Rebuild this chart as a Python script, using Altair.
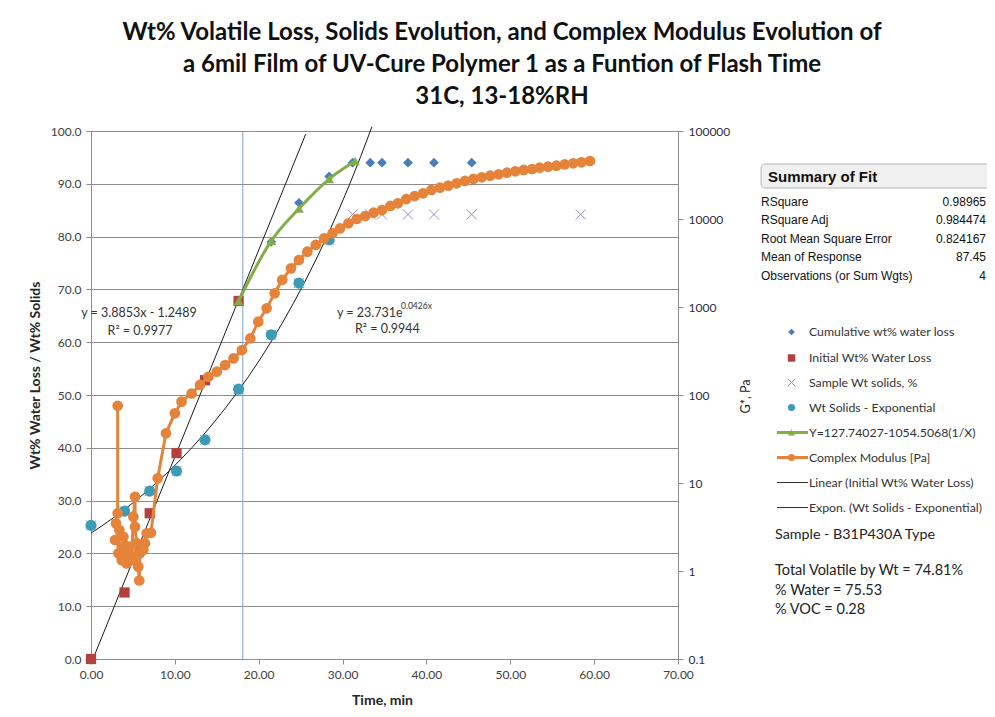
import altair as alt
import pandas as pd

# ---------------- data ----------------
cum_x = [17.6, 21.5, 24.8, 28.4, 31.2, 33.3, 34.7, 37.8, 40.9, 45.4, 58.4]
cum_y = [67.8, 79.0, 86.4, 91.4, 94.0, 94.0, 94.0, 94.0, 94.0, 94.0, 94.0]

init_x = [0.0, 4.0, 7.0, 10.2, 13.6, 17.6]
init_y = [0.0, 12.6, 27.6, 39.0, 52.8, 67.8]

samp_x = [0.0, 4.0, 7.0, 10.2, 13.6, 17.6, 21.5, 24.8, 28.4, 31.2, 33.3, 34.7, 37.8, 40.9, 45.4, 58.4]
samp_y = [25.3, 28.0, 31.8, 35.6, 41.5, 51.1, 61.4, 71.2, 79.4, 84.2, 84.2, 84.2, 84.2, 84.2, 84.2, 84.2]

sol_x = [0.0, 4.0, 7.0, 10.2, 13.6, 17.6, 21.5, 24.8, 28.4]
sol_y = [25.3, 28.0, 31.8, 35.6, 41.5, 51.1, 61.4, 71.2, 79.4]

fit_x = [17.6, 21.5, 24.8, 28.4, 31.5]
fit_y = [67.8, 79.2, 85.3, 90.9, 94.3]

gm_x = [3.18, 3.18, 2.98, 3.38, 2.86, 3.66, 3.26, 3.66, 4.25, 3.86, 4.57, 4.25, 4.85,
        5.05, 5.25, 5.25, 5.45, 5.05, 5.64, 5.76, 5.84, 6.24, 6.44, 6.64, 7.15, 7.95,
        8.94, 10.0, 10.8, 12.0, 13.0, 14.0, 15.0, 16.0, 17.0, 18.0, 19.0, 19.95, 20.95,
        21.9, 22.8, 23.85, 24.8, 25.8, 26.8, 27.8, 28.8, 29.7, 30.7, 31.7, 32.7, 33.7,
        34.7, 35.7, 36.6, 37.6, 38.6, 39.6, 40.6, 41.6, 42.6, 43.6, 44.6, 45.6, 46.6,
        47.6, 48.6, 49.6, 50.6, 51.6, 52.6, 53.5, 54.5, 55.5, 56.5, 57.5, 58.5, 59.5]
gm_g = [75.5, 4.53, 3.48, 2.92, 2.25, 1.89, 1.59, 1.33, 1.52, 2.45, 1.89, 1.22, 1.46,
        4.14, 6.98, 3.18, 2.07, 1.33, 1.12, 0.78, 1.59, 1.73, 2.07, 2.68, 2.72, 11.3,
        36.7, 62, 84, 104, 130, 161, 184, 219, 261, 324, 441, 681, 966,
        1430, 2030, 2750, 3420, 4250, 5070, 6040, 6890, 7830, 8930, 10000, 10800, 11800,
        12650, 14060, 15070, 16870, 18240, 19590, 21380, 22700, 23880, 25470, 27040, 28510, 29790,
        31050, 32210, 33570, 34830, 36060, 36980, 38280, 39260, 40360, 41780, 42950, 44060, 45600]

ref_x = [18.1]
lin_extent = [0.32, 25.6]
exp_extent = [0.0, 33.5]

x_ticks = [0, 10, 20, 30, 40, 50, 60, 70]
yl_ticks = [0, 10, 20, 30, 40, 50, 60, 70, 80, 90, 100]
yr_ticks = [0.1, 1, 10, 100, 1000, 10000, 100000]

title_lines = ["Wt% Volatile Loss, Solids Evolution, and Complex Modulus Evolution of",
               "a 6mil Film of UV-Cure Polymer 1 as a Funtion of Flash Time",
               "31C, 13-18%RH"]
legend_labels = ["Cumulative wt% water loss", "Initial Wt% Water Loss", "Sample Wt solids, %",
                 "Wt Solids - Exponential", "Y=127.74027-1054.5068(1/X)", "Complex Modulus [Pa]",
                 "Linear (Initial Wt% Water Loss)", "Expon. (Wt Solids - Exponential)"]
fit_names = ["RSquare", "RSquare Adj", "Root Mean Square Error", "Mean of Response",
             "Observations (or Sum Wgts)"]
fit_vals = ["0.98965", "0.984474", "0.824167", "87.45", "4"]
notes = ["Total Volatile by Wt = 74.81%", "% Water = 75.53", "% VOC = 0.28"]

# ---------------- styling ----------------
F = "Lato"
FA = "Liberation Sans"
TXT = "#262626"
GRID = "#8c8c8c"
C_BLUE = "#4a7ebb"
C_RED = "#b5413f"
C_PURP = "#9a8cc4"
C_TEAL = "#3c9cb8"
C_GREEN = "#82ad47"
C_ORANGE = "#e5833a"
X_SHAPE = "M-1,-1L1,1M-1,1L1,-1"

x_scale = alt.Scale(domain=[0, 70], nice=False, zero=False)
yl_scale = alt.Scale(domain=[0, 100], nice=False)
yr_scale = alt.Scale(type="log", domain=[0.1, 100000], nice=False)

x_axis = alt.Axis(values=x_ticks, format=".2f", title="Time, min", grid=False,
                  labelFont=F, labelFontSize=12, labelColor="#404040", labelPadding=5,
                  labelFlush=False, labelOverlap=False,
                  tickSize=5, tickColor=GRID, domainColor=GRID,
                  titleFont=F, titleFontSize=14, titleFontWeight="bold", titleColor=TXT,
                  titleX=291, titleY=41, titleAlign="center", titleBaseline="middle")
yl_axis = alt.Axis(values=yl_ticks, format=".1f", title="Wt% Water Loss / Wt% Solids",
                   orient="left", grid=True, gridColor=GRID, gridWidth=1,
                   labelFont=F, labelFontSize=12, labelColor="#404040", labelPadding=5,
                   labelFlush=False, labelOverlap=False,
                   tickSize=5, tickColor=GRID, domainColor=GRID,
                   titleFont=F, titleFontSize=14, titleFontWeight="bold", titleColor=TXT,
                   titleX=-56, titleY=244, titleAngle=270, titleAlign="center",
                   titleBaseline="middle")
yr_axis = alt.Axis(values=yr_ticks, format="~g", title="G*, Pa", orient="right", grid=False,
                   labelFont=F, labelFontSize=12, labelColor="#2c2c44", labelPadding=5,
                   labelFlush=False, labelOverlap=False,
                   tickSize=5, tickColor=GRID, domainColor=GRID,
                   titleFont=F, titleFontSize=12.5, titleFontWeight="normal", titleColor=TXT,
                   titleX=67, titleY=265, titleAngle=270, titleAlign="center",
                   titleBaseline="middle")

X = alt.X("t:Q", scale=x_scale, axis=x_axis)
YL = alt.Y("v:Q", scale=yl_scale, axis=yl_axis)
YR = alt.Y("g:Q", scale=yr_scale, axis=yr_axis)

ONE = pd.DataFrame({"k": [0]})


def df(xs, ys):
    return pd.DataFrame({"t": xs, "v": ys})


def txt(s, x, y, size=11, weight="normal", align="left", font=F, color=TXT, baseline="middle"):
    return alt.Chart(ONE).mark_text(text=s, align=align, baseline=baseline, font=font,
                                    fontSize=size, fontWeight=weight, color=color).encode(
        x=alt.value(x), y=alt.value(y))


def sym(x, y, shape, color, size, filled=True, sw=1.0):
    m = alt.Chart(ONE).mark_point(shape=shape, size=size, filled=filled, opacity=1,
                                  color=color, strokeWidth=sw)
    return m.encode(x=alt.value(x), y=alt.value(y))


def seg(x1, x2, y, color, sw):
    return alt.Chart(ONE).mark_rule(color=color, strokeWidth=sw).encode(
        x=alt.value(x1), x2=alt.value(x2), y=alt.value(y))


# ---------------- data layers ----------------
vline = alt.Chart(pd.DataFrame({"t": ref_x})).mark_rule(color="#7ea3cf", strokeWidth=1).encode(x=X)

lin = alt.Chart(df(init_x, init_y)).transform_regression(
    "t", "v", method="linear", extent=lin_extent).mark_line(color="#1a1a1a", strokeWidth=1).encode(x=X, y=YL)
expo = alt.Chart(df(sol_x, sol_y)).transform_regression(
    "t", "v", method="exp", extent=exp_extent).mark_line(color="#1a1a1a", strokeWidth=1).encode(x=X, y=YL)

cum = alt.Chart(df(cum_x, cum_y)).mark_point(shape="diamond", filled=True, size=95, color=C_BLUE,
                                              opacity=1).encode(x=X, y=YL)
init = alt.Chart(df(init_x, init_y)).mark_point(shape="square", filled=True, size=105, color=C_RED,
                                                 opacity=1).encode(x=X, y=YL)
samp = alt.Chart(df(samp_x, samp_y)).mark_point(shape=X_SHAPE, filled=False, size=100, color=C_PURP,
                                                 strokeWidth=1, opacity=1).encode(x=X, y=YL)
sol = alt.Chart(df(sol_x, sol_y)).mark_point(shape="circle", filled=True, size=125, color=C_TEAL,
                                              opacity=1).encode(x=X, y=YL)
fit = alt.Chart(df(fit_x, fit_y)).mark_line(
    color=C_GREEN, strokeWidth=3, interpolate="monotone",
    point=alt.OverlayMarkDef(shape="triangle-up", filled=True, size=95, color=C_GREEN, opacity=1)
).encode(x=X, y=YL)

gm_df = pd.DataFrame({"t": gm_x, "g": gm_g, "i": list(range(len(gm_x)))})
gm = alt.Chart(gm_df).mark_line(
    color=C_ORANGE, strokeWidth=3,
    point=alt.OverlayMarkDef(shape="circle", filled=True, size=115, color=C_ORANGE, opacity=1)
).encode(x=X, y=YR, order=alt.Order("i:Q"))

# ---------------- annotations (pixel positions relative to plot area) ----------------
ann = []
for i, line in enumerate(title_lines):
    ann.append(txt(line, 411, -98 + 32 * i, size=24, weight="bold", align="center", color="#111111"))

ann += [
    txt("y = 3.8853x - 1.2489", 48, 182, size=12.5, align="center", color="#333333"),
    txt("R² = 0.9977", 49, 200, size=12.5, align="center", color="#333333"),
    txt("y = 23.731e", 246, 182, size=12.5, align="left", color="#333333"),
    txt("0.0426x", 310, 175, size=8.5, align="left", color="#333333"),
    txt("R² = 0.9944", 264, 198, size=12.5, align="left", color="#333333"),
]

# Summary of Fit box
ann.append(alt.Chart(ONE).mark_rect(fill="#f0f0f0", stroke="#b4b4b4", strokeWidth=1,
                                    cornerRadius=4).encode(
    x=alt.value(670), x2=alt.value(905), y=alt.value(33), y2=alt.value(57)))
ann.append(txt("Summary of Fit", 677, 45.5, size=15, weight="bold", font=FA, color="#111111"))
row_y = [71, 89, 107.5, 126, 144.5]
for name, val, yy in zip(fit_names, fit_vals, row_y):
    ann.append(txt(name, 670, yy, size=12, font=FA, color="#111111"))
    ann.append(txt(val, 895, yy, size=12, font=FA, align="right", color="#111111"))

# Legend
leg_y = [201, 227, 251.5, 276.5, 301.5, 326.5, 351.5, 376.5]
SX, TX, L1, L2 = 700.5, 718, 686, 717
ann += [
    sym(SX, leg_y[0], "diamond", C_BLUE, 45),
    sym(SX, leg_y[1], "square", C_RED, 55),
    sym(SX, leg_y[2], X_SHAPE, C_PURP, 55, filled=False),
    sym(SX, leg_y[3], "circle", C_TEAL, 50),
    seg(L1, L2, leg_y[4], C_GREEN, 3),
    sym(SX, leg_y[4], "triangle-up", C_GREEN, 50),
    seg(L1, L2, leg_y[5], C_ORANGE, 3),
    sym(SX, leg_y[5], "circle", C_ORANGE, 50),
    seg(L1, L2, leg_y[6], "#333333", 1),
    seg(L1, L2, leg_y[7], "#333333", 1),
]
for lab, yy in zip(legend_labels, leg_y):
    ann.append(txt(lab, TX, yy, size=12.3, color="#333333"))

ann.append(txt("Sample - B31P430A Type", 684, 404, size=14.3, color="#222222"))
for s, yy in zip(notes, [440, 459.5, 478.5]):
    ann.append(txt(s, 684, yy, size=14.5, color="#222222"))

left = alt.layer(vline, lin, expo, cum, init, samp, sol, fit, *ann)
chart = alt.layer(left, gm).resolve_scale(y="independent").properties(
    width=587, height=528,
    autosize=alt.AutoSizeParams(type="none"),
    padding={"left": 83, "top": 123, "right": 309, "bottom": 50},
).configure_view(strokeWidth=0)

chart.save("out.html", embed_options={"renderer": "svg", "actions": False})
